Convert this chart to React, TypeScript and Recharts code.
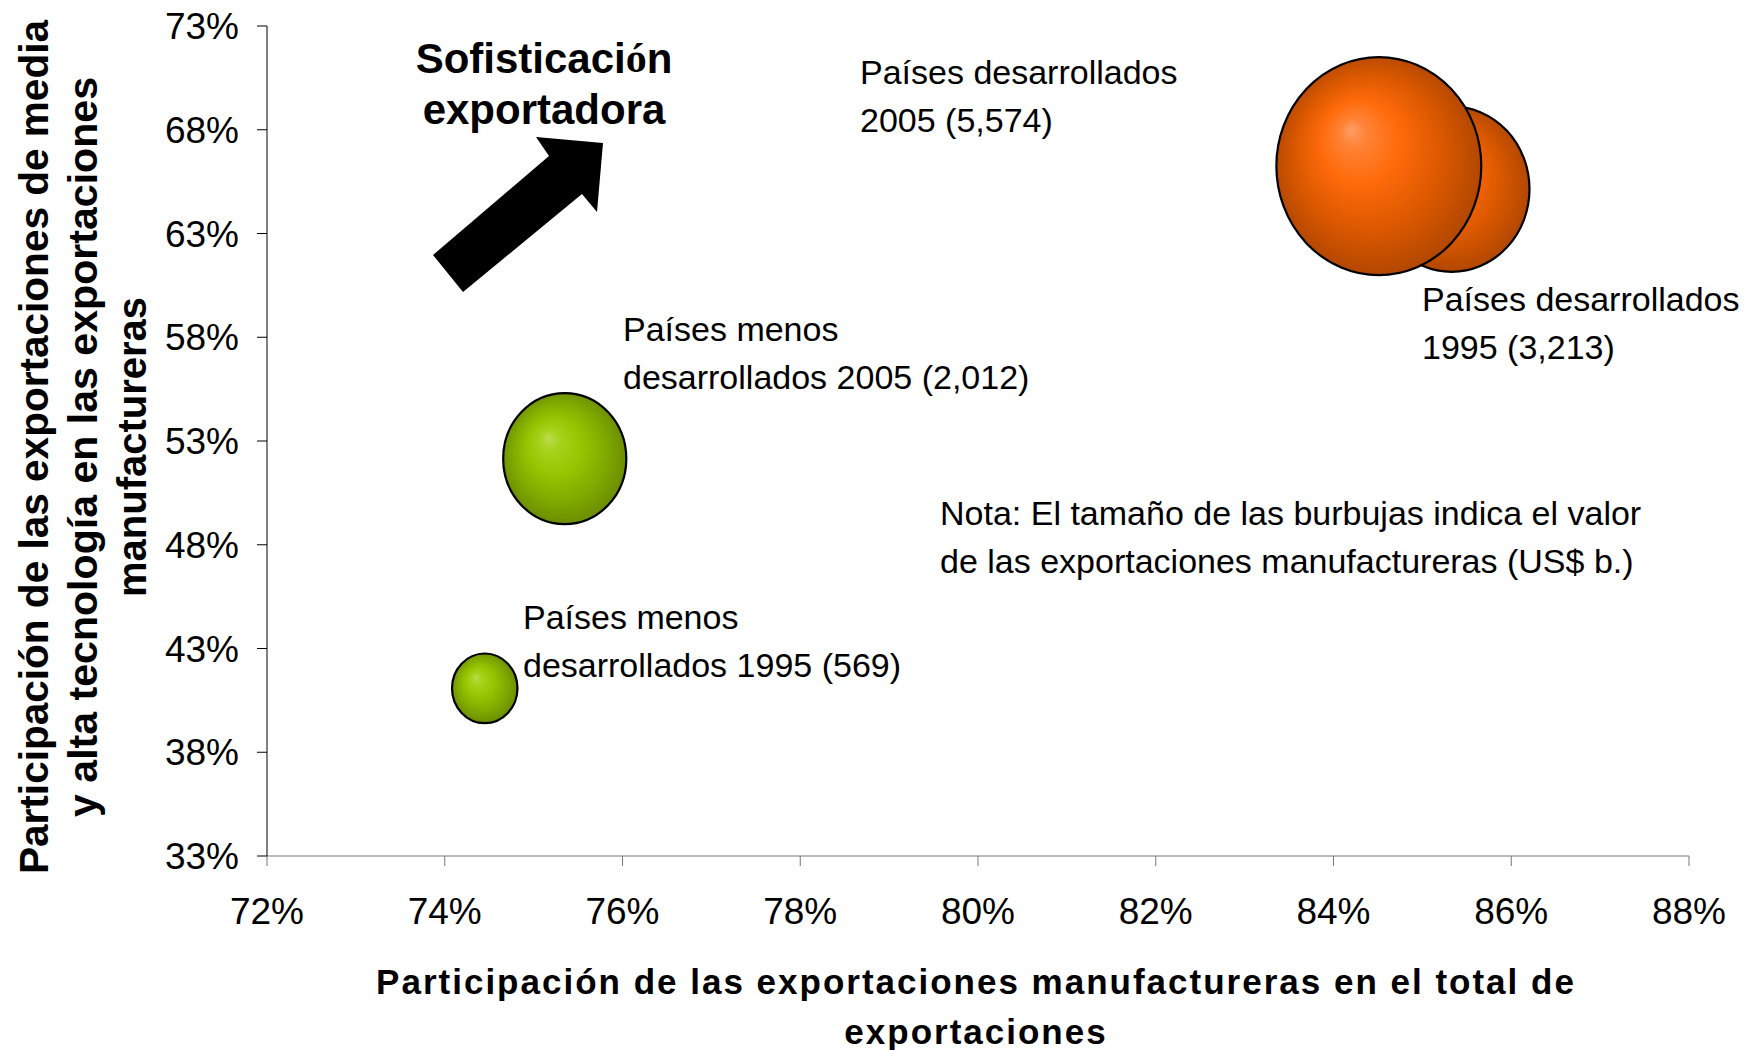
import { ScatterChart, Scatter, XAxis, YAxis, ZAxis } from "recharts"

document.body.style.margin = "0"

const FONT = "'Liberation Sans', Arial, sans-serif"

// x: share of manufactures in total exports (%)
// y: share of medium/high tech in manufactured exports (%)
// z: manufactured exports, US$ b.
const xTicks = [72, 74, 76, 78, 80, 82, 84, 86, 88]
const yTicks = [33, 38, 43, 48, 53, 58, 63, 68, 73]

const devYears = ["1995", "2005"]
const devShareMfg = [85.33, 84.51]
const devShareTech = [65.14, 66.25]
const devValue = [3213, 5574]

const ldcYears = ["1995", "2005"]
const ldcShareMfg = [74.45, 75.35]
const ldcShareTech = [41.08, 52.15]
const ldcValue = [569, 2012]

const devLabels = [
  ["Países desarrollados", "1995 (3,213)"],
  ["Países desarrollados", "2005 (5,574)"],
]
const ldcLabels = [
  ["Países menos", "desarrollados 1995 (569)"],
  ["Países menos", "desarrollados 2005 (2,012)"],
]
const noteLines = [
  "Nota: El tamaño de las burbujas indica el valor",
  "de las exportaciones manufactureras (US$ b.)",
]
const arrowTitle = ["Sofisticaci", "ó", "n", "exportadora"]
const xTitle = ["Participación de las exportaciones manufactureras en el total de", "exportaciones"]
const yTitle = [
  "Participación de las exportaciones de media",
  "y alta tecnología en las exportaciones",
  "manufactureras",
]
const yTitleLengths = [854, 740, 300]

const devData = devYears.map((year, i) => ({ year, x: devShareMfg[i], y: devShareTech[i], z: devValue[i] }))
const ldcData = ldcYears.map((year, i) => ({ year, x: ldcShareMfg[i], y: ldcShareTech[i], z: ldcValue[i] }))

const maxValue = Math.max(...devValue, ...ldcValue)

const bubble = (fillId: string) => (props: any) => {
  const r = props.width ? props.width / 2 : Math.sqrt(props.size / Math.PI)
  return (
    <ellipse
      cx={props.cx}
      cy={props.cy}
      rx={r * 0.94}
      ry={r}
      fill={`url(#${fillId})`}
      stroke="#000"
      strokeWidth={2.2}
    />
  )
}

function TextBlock({ x, y, lines, size = 34 }: { x: number; y: number; lines: string[]; size?: number }) {
  return (
    <g>
      {lines.map((l, i) => (
        <text key={i} x={x} y={y + i * 48} fontSize={size} fontFamily={FONT} dominantBaseline="central" fill="#000">
          {l}
        </text>
      ))}
    </g>
  )
}

function Overlay() {
  return (
    <svg width={1744} height={1050} style={{ position: "absolute", left: 0, top: 0, pointerEvents: "none" }}>
      <TextBlock x={860} y={72} lines={devLabels[1]} />
      <TextBlock x={1422} y={299} lines={devLabels[0]} />
      <TextBlock x={623} y={329} lines={ldcLabels[1]} />
      <TextBlock x={523} y={617} lines={ldcLabels[0]} />
      <TextBlock x={940} y={513} lines={noteLines} />

      <text x={544} y={58} textAnchor="middle" dominantBaseline="central" fontSize={42} fontWeight="bold" fontFamily={FONT}>
        {arrowTitle[0]}
        <tspan fontFamily="'Liberation Serif', serif">{arrowTitle[1]}</tspan>
        {arrowTitle[2]}
      </text>
      <text x={544} y={109} textAnchor="middle" dominantBaseline="central" fontSize={42} fontWeight="bold" fontFamily={FONT}>
        {arrowTitle[3]}
      </text>
      <polygon points="433,255 549,156 536,137 603,143 597,212 582,194 463,292" fill="#000" />

      {xTitle.map((l, i) => (
        <text
          key={i}
          x={976}
          y={981 + i * 50}
          textAnchor="middle"
          dominantBaseline="central"
          fontSize={35}
          fontWeight="bold"
          letterSpacing={2}
          fontFamily={FONT}
        >
          {l}
        </text>
      ))}
      {yTitle.map((l, i) => (
        <text
          key={i}
          transform={`translate(${34 + i * 49}, 447) rotate(-90)`}
          textAnchor="middle"
          dominantBaseline="central"
          fontSize={41}
          fontWeight="bold"
          fontFamily={FONT}
          textLength={yTitleLengths[i]}
          lengthAdjust="spacingAndGlyphs"
        >
          {l}
        </text>
      ))}
    </svg>
  )
}

export default function App() {
  return (
    <div style={{ position: "relative", width: 1744, height: 1050, background: "#fff" }}>
      <ScatterChart width={1744} height={1050} margin={{ top: 26, right: 55, bottom: 114, left: 147 }}>
        <defs>
          <radialGradient id="gradOrange" cx="50%" cy="50%" r="55%" fx="36%" fy="33%">
            <stop offset="0%" stopColor="#ff9d66" />
            <stop offset="12%" stopColor="#ff8235" />
            <stop offset="35%" stopColor="#ff6a0a" />
            <stop offset="65%" stopColor="#db5800" />
            <stop offset="100%" stopColor="#a84300" />
          </radialGradient>
          <radialGradient id="gradGreen" cx="50%" cy="50%" r="55%" fx="36%" fy="34%">
            <stop offset="0%" stopColor="#bcdc50" />
            <stop offset="15%" stopColor="#a6d21a" />
            <stop offset="40%" stopColor="#96c500" />
            <stop offset="70%" stopColor="#7fa800" />
            <stop offset="100%" stopColor="#648600" />
          </radialGradient>
        </defs>
        <XAxis
          type="number"
          dataKey="x"
          domain={[72, 88]}
          ticks={xTicks}
          tickFormatter={(v) => `${v}%`}
          stroke="#777"
          tickSize={10}
          tickMargin={32}
          height={80}
          tick={{ fill: "#000", fontSize: 37, fontFamily: FONT }}
        />
        <YAxis
          type="number"
          dataKey="y"
          domain={[33, 73]}
          ticks={yTicks}
          tickFormatter={(v) => `${v}%`}
          stroke="#000"
          tickSize={10}
          tickMargin={18}
          width={120}
          tick={{ fill: "#000", fontSize: 37, fontFamily: FONT }}
        />
        <ZAxis type="number" dataKey="z" domain={[0, maxValue]} range={[0, Math.PI * 1.46 * 1.46 * maxValue]} />
        <Scatter data={devData} shape={bubble("gradOrange")} isAnimationActive={false} />
        <Scatter data={ldcData} shape={bubble("gradGreen")} isAnimationActive={false} />
      </ScatterChart>
      <Overlay />
    </div>
  )
}
